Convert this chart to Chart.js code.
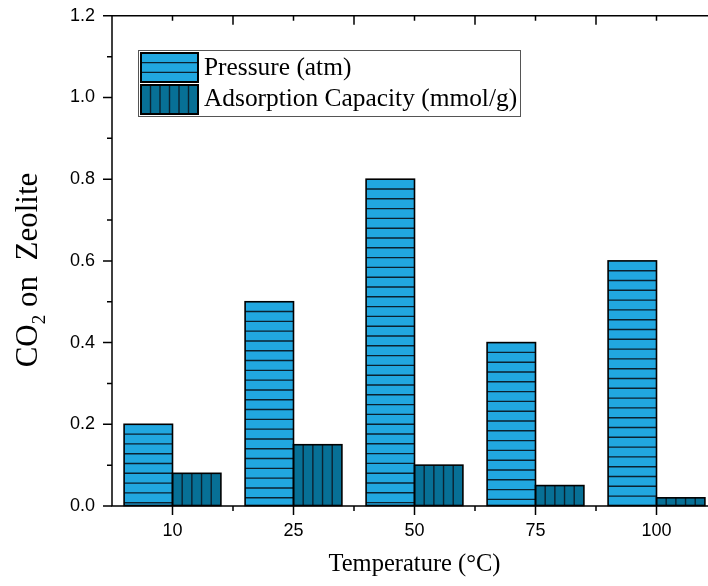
<!DOCTYPE html>
<html><head><meta charset="utf-8">
<script src="https://cdn.jsdelivr.net/npm/chart.js@4/dist/chart.umd.min.js"></script>
<style>
html,body{margin:0;padding:0;overflow:hidden;background:#fff;width:708px;height:586px}
#wrap{width:720px;height:586px;position:relative;overflow:hidden}
canvas{display:block;position:absolute;left:0;top:-12px}
</style></head>
<body><div id="wrap"><canvas id="c" width="720" height="598"></canvas></div>
<script>
// ---- data ----
const categories = ['10', '25', '50', '75', '100'];
const pressure = [0.2, 0.5, 0.8, 0.4, 0.6];
const adsorption = [0.08, 0.15, 0.10, 0.05, 0.02];
const seriesNames = ['Pressure (atm)', 'Adsorption Capacity (mmol/g)'];
const yTickValues = [0, 0.2, 0.4, 0.6, 0.8, 1.0, 1.2];
const yMinorValues = [0.1, 0.3, 0.5, 0.7, 0.9, 1.1];
const xTitle = 'Temperature (\u00B0C)';
const yTitleParts = ['CO', '2', ' on  Zeolite'];

const OFF = 12; // canvas is shifted up by this many pixels
const colPressure = '#21A7E0';
const colAds = '#077096';
const hatchCol = '#0b2230';
const serif = '"Liberation Serif", "Times New Roman", serif';
const sans = '"Liberation Sans", Arial, sans-serif';

const decorPlugin = {
  id: 'decor',
  afterDatasetsDraw(chart) {
    const ctx = chart.ctx;
    chart.data.datasets.forEach((ds, di) => {
      const meta = chart.getDatasetMeta(di);
      meta.data.forEach(el => {
        const p = el.getProps(['x', 'y', 'base', 'width'], true);
        const l = p.x - p.width / 2, r = p.x + p.width / 2;
        const t = Math.min(p.y, p.base), b = Math.max(p.y, p.base);
        ctx.save();
        ctx.beginPath(); ctx.rect(l, t, r - l, b - t); ctx.clip();
        ctx.strokeStyle = hatchCol; ctx.lineWidth = 1.4;
        ctx.beginPath();
        if (di === 0) {
          for (let yy = t + 9.8; yy < b - 1; yy += 9.8) { ctx.moveTo(l, yy); ctx.lineTo(r, yy); }
        } else {
          const sp = (r - l) / 5;
          for (let k = 1; k < 5; k++) { ctx.moveTo(l + k * sp, t); ctx.lineTo(l + k * sp, b); }
        }
        ctx.stroke();
        ctx.restore();
        ctx.save();
        ctx.strokeStyle = '#000'; ctx.lineWidth = 1.6;
        ctx.strokeRect(l, t, r - l, b - t);
        ctx.restore();
      });
    });
  },
  afterDraw(chart) {
    const ctx = chart.ctx;
    const a = chart.chartArea;
    const xs = chart.scales.x, ys = chart.scales.y;
    ctx.save();
    ctx.strokeStyle = '#000'; ctx.lineWidth = 1.5;
    // axis lines
    ctx.beginPath();
    ctx.moveTo(a.left, a.top); ctx.lineTo(a.left, a.bottom);
    ctx.moveTo(a.left - 0.75, a.bottom); ctx.lineTo(a.right, a.bottom);
    ctx.moveTo(a.left - 0.75, a.top); ctx.lineTo(a.right, a.top);
    ctx.moveTo(a.right, a.top); ctx.lineTo(a.right, a.bottom);
    ctx.stroke();
    // y ticks
    ctx.beginPath();
    yTickValues.forEach(v => { const py = ys.getPixelForValue(v); ctx.moveTo(a.left - 9, py); ctx.lineTo(a.left, py); });
    yMinorValues.forEach(v => { const py = ys.getPixelForValue(v); ctx.moveTo(a.left - 5, py); ctx.lineTo(a.left, py); });
    // x ticks
    categories.forEach((c, i) => {
      const px = xs.getPixelForValue(i);
      ctx.moveTo(px, a.bottom); ctx.lineTo(px, a.bottom + 9);
      ctx.moveTo(px, a.top); ctx.lineTo(px, a.top + 5);
      if (i > 0) {
        const bx = (px + xs.getPixelForValue(i - 1)) / 2;
        ctx.moveTo(bx, a.bottom); ctx.lineTo(bx, a.bottom + 5);
        ctx.moveTo(bx, a.top); ctx.lineTo(bx, a.top + 9);
      }
    });
    ctx.stroke();

    // absolute-positioned decorations (screen coords + OFF)
    ctx.translate(0, OFF);
    // legend
    const L = {x: 138, y: 50, w: 382, h: 66};
    ctx.fillStyle = '#fff'; ctx.fillRect(L.x, L.y, L.w, L.h);
    ctx.strokeStyle = '#555'; ctx.lineWidth = 1;
    ctx.strokeRect(L.x + 0.5, L.y + 0.5, L.w, L.h);
    const sw = [{y: 53, fill: colPressure, hatch: 'h'}, {y: 85, fill: colAds, hatch: 'v'}];
    sw.forEach((s, i) => {
      const x0 = 141, w = 57, h = 29;
      ctx.fillStyle = s.fill; ctx.fillRect(x0, s.y, w, h);
      ctx.strokeStyle = hatchCol; ctx.lineWidth = 1.4;
      ctx.beginPath();
      if (s.hatch === 'h') {
        for (let k = 1; k < 3; k++) { ctx.moveTo(x0, s.y + k * h / 3); ctx.lineTo(x0 + w, s.y + k * h / 3); }
      } else {
        for (let k = 1; k < 6; k++) { ctx.moveTo(x0 + k * w / 6, s.y); ctx.lineTo(x0 + k * w / 6, s.y + h); }
      }
      ctx.stroke();
      ctx.strokeStyle = '#000'; ctx.lineWidth = 2;
      ctx.strokeRect(x0, s.y, w, h);
      ctx.fillStyle = '#000';
      ctx.font = '25.4px ' + serif;
      ctx.textAlign = 'left'; ctx.textBaseline = 'alphabetic';
      ctx.fillText(seriesNames[i], 204, i === 0 ? 75 : 106);
    });

    // x title
    ctx.fillStyle = '#000';
    ctx.font = '24.5px ' + serif;
    ctx.textAlign = 'center'; ctx.textBaseline = 'alphabetic';
    ctx.fillText(xTitle, (a.left + a.right) / 2, 571);

    // y title with subscript
    ctx.save();
    ctx.translate(37, 270);
    ctx.rotate(-Math.PI / 2);
    const big = '31px ' + serif, small = '19px ' + serif;
    ctx.font = big; const w0 = ctx.measureText(yTitleParts[0]).width;
    ctx.font = small; const w1 = ctx.measureText(yTitleParts[1]).width;
    ctx.font = big; const w2 = ctx.measureText(yTitleParts[2]).width;
    let x = -(w0 + w1 + w2) / 2;
    ctx.textAlign = 'left';
    ctx.font = big; ctx.fillText(yTitleParts[0], x, 0); x += w0;
    ctx.font = small; ctx.fillText(yTitleParts[1], x, 8); x += w1;
    ctx.font = big; ctx.fillText(yTitleParts[2], x, 0);
    ctx.restore();
    ctx.restore();
  }
};

new Chart(document.getElementById('c'), {
  type: 'bar',
  data: {
    labels: categories,
    datasets: [
      {label: seriesNames[0], data: pressure, backgroundColor: colPressure, borderWidth: 0},
      {label: seriesNames[1], data: adsorption, backgroundColor: colAds, borderWidth: 0}
    ]
  },
  options: {
    responsive: false,
    animation: false,
    devicePixelRatio: 1,
    layout: {padding: {left: 0, right: 3, top: 3, bottom: 0}},
    datasets: {bar: {categoryPercentage: 0.8, barPercentage: 1.0}},
    plugins: {legend: {display: false}, tooltip: {enabled: false}},
    scales: {
      x: {
        type: 'category',
        grid: {display: true, drawOnChartArea: false, drawTicks: false, tickLength: 0},
        border: {display: false},
        ticks: {color: '#000', font: {family: sans, size: 18}, padding: 14, maxRotation: 0},
        afterFit(s) { s.height = 80; }
      },
      y: {
        min: 0, max: 1.2,
        grid: {display: true, drawOnChartArea: false, drawTicks: false, tickLength: 0},
        border: {display: false},
        afterBuildTicks(s) { s.ticks = yTickValues.map(v => ({value: v})); },
        ticks: {color: '#000', font: {family: sans, size: 18}, padding: 17, callback: v => Number(v).toFixed(1)},
        afterFit(s) { s.width = 112; }
      }
    }
  },
  plugins: [decorPlugin]
});
</script>
</body></html>
